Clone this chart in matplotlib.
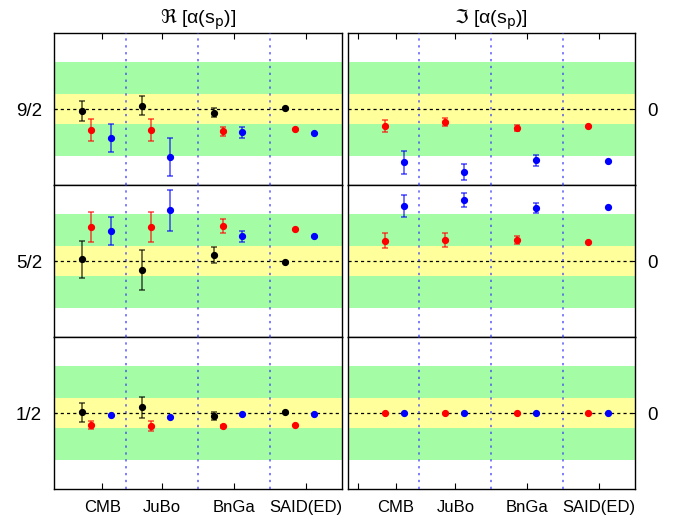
import numpy as np
import matplotlib
matplotlib.use("Agg")
import matplotlib.pyplot as plt

plt.rcParams['font.family'] = ['Liberation Sans', 'DejaVu Sans']
plt.rcParams['mathtext.fontset'] = 'dejavusans'

# groups and rows
groups = ['CMB', 'JuBo', 'BnGa', 'SAID(ED)']
group_pos = [0.67, 1.5, 2.5, 3.5]
row_labels = ['9/2', '5/2', '1/2']

# real part, rows 9/2, 5/2, 1/2 ; columns CMB, JuBo, BnGa, SAID(ED)
re_black = [[-0.03, 0.06, -0.06, 0.01], [0.03, -0.16, 0.10, -0.02], [0.01, 0.10, -0.05, 0.01]]
re_black_err = [[0.17, 0.16, 0.07, 0], [0.32, 0.34, 0.14, 0], [0.16, 0.18, 0.07, 0]]
re_red = [[-0.36, -0.36, -0.38, -0.34], [0.58, 0.58, 0.60, 0.54], [-0.21, -0.22, -0.23, -0.21]]
re_red_err = [[0.19, 0.19, 0.08, 0], [0.25, 0.26, 0.12, 0], [0.07, 0.08, 0.02, 0]]
re_blue = [[-0.49, -0.82, -0.40, -0.41], [0.51, 0.87, 0.42, 0.42], [-0.03, -0.06, -0.02, -0.02]]
re_blue_err = [[0.24, 0.33, 0.09, 0], [0.24, 0.35, 0.10, 0], [0, 0, 0, 0]]

# imaginary part
im_red = [[-0.29, -0.22, -0.32, -0.29], [0.35, 0.36, 0.36, 0.33], [0, 0, 0, 0]]
im_red_err = [[0.10, 0.07, 0.05, 0], [0.13, 0.12, 0.07, 0], [0, 0, 0, 0]]
im_blue = [[-0.91, -1.08, -0.88, -0.89], [0.94, 1.04, 0.91, 0.92], [0, 0, 0, 0]]
im_blue_err = [[0.20, 0.14, 0.09, 0], [0.19, 0.12, 0.09, 0], [0, 0, 0, 0]]

# offsets of the three series inside a group
off_black, off_red, off_blue = -0.28, -0.15, 0.12


def draw_points(ax, xs, ys, errs, color):
    for x, y, e in zip(xs, ys, errs):
        if e > 0:
            ax.errorbar(x, y, yerr=e, fmt='none', ecolor=color, elinewidth=1.1,
                        capsize=2.5, capthick=1.1, alpha=0.7, zorder=4)
        ax.plot(x, y, 'o', color=color, ms=4.2, zorder=5)


fig, axes = plt.subplots(3, 2, figsize=(6.8, 5.2), dpi=100)
fig.subplots_adjust(left=0.0794, right=0.934, top=0.9365, bottom=0.0596,
                    hspace=0, wspace=0.021)

gp = np.array(group_pos)
for r in range(3):
    for c in range(2):
        ax = axes[r, c]
        ax.set_xlim(0, 4)
        ax.set_ylim(-1.3, 1.3)
        ax.axhspan(-0.8, 0.8, color='#a4fca4', lw=0, zorder=0)
        ax.axhspan(-0.25, 0.25, color='#ffff9c', lw=0, zorder=1)
        ax.axhline(0, color='black', lw=0.9, ls=(0, (2.5, 2.5)), zorder=2)
        for xv in [1, 2, 3]:
            ax.axvline(xv, color='#3333ff', lw=1.1, ls=(0, (1.5, 3)), alpha=0.8, zorder=3)
        ax.set_yticks([0])
        ax.tick_params(axis='y', direction='in', length=2.5, width=0.8,
                       labelsize=13.5, pad=8.5)
        for s in ax.spines.values():
            s.set_linewidth(1.0)
        if c == 0:
            ax.set_yticklabels([row_labels[r]])
            draw_points(ax, gp + off_black, re_black[r], re_black_err[r], 'black')
            draw_points(ax, gp + off_red, re_red[r], re_red_err[r], 'red')
            draw_points(ax, gp + off_blue, re_blue[r], re_blue_err[r], 'blue')
            ax.set_xticks(group_pos)
            labs = groups
        else:
            ax.yaxis.tick_right()
            ax.set_yticklabels(['0'])
            draw_points(ax, gp + off_red, im_red[r], im_red_err[r], 'red')
            draw_points(ax, gp + off_blue, im_blue[r], im_blue_err[r], 'blue')
            ax.set_xticks([0.14] + group_pos)
            labs = [''] + groups
        if r == 2:
            ax.set_xticklabels(labs)
        else:
            ax.set_xticklabels([])

        ax.tick_params(axis='x', direction='in', length=4.5, width=0.8,
                       top=(r == 0), bottom=(r == 2), labelsize=12, pad=8)

axes[0, 0].set_title(r'$\Re$ [α(s$_\mathrm{p}$)]', fontsize=14, pad=7)
axes[0, 1].set_title(r'$\Im$ [α(s$_\mathrm{p}$)]', fontsize=14, pad=7)

plt.savefig('out.png', dpi=100)
